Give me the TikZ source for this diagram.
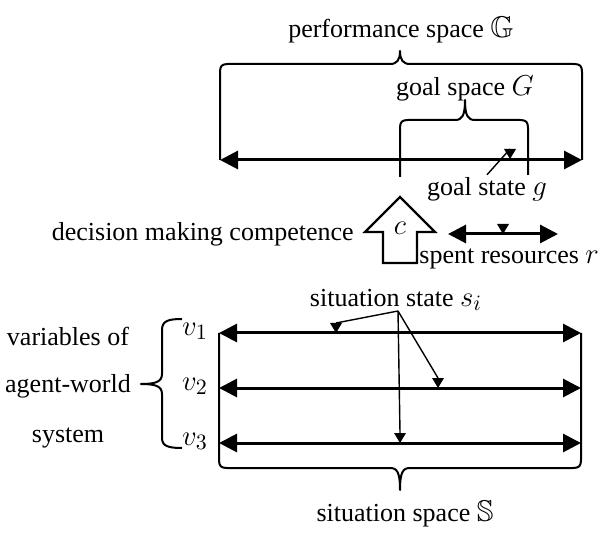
\documentclass[tikz,border=0pt]{standalone}
\usepackage{amssymb}
\usepackage{fontspec}
\setmainfont{Liberation Serif}
\usetikzlibrary{arrows.meta,positioning}

\newcommand{\mth}[1]{{\fontsize{15}{17}\selectfont$#1$}}

\tikzset{
  txt/.style={font=\fontsize{13}{15}\selectfont, inner sep=1pt},
  axisline/.style={line width=1.5pt, {Triangle[length=9pt,width=9pt]}-{Triangle[length=9pt,width=9pt]}},
  braceline/.style={line width=1pt, line join=round},
  pointer/.style={line width=0.7pt},
  tipmark/.pic={\fill (-6,0) -- (6,0) -- (0,10) -- cycle;}
}

\begin{document}
\begin{tikzpicture}[x=0.5pt, y=-0.5pt]
  \useasboundingbox (0,0) rectangle (598,544);

  % performance space
  \coordinate (pl) at (220,160);
  \coordinate (pr) at (582,160);
  \draw[axisline] (pl) -- (pr);
  \draw[braceline] (pl) -- (220,72) .. controls (220,66) and (222,64) .. (228,64)
    -- (390,64) .. controls (397,64) and (400,60) .. (400,51)
    .. controls (400,60) and (403,64) .. (410,64) -- (574,64)
    .. controls (580,64) and (582,66) .. (582,72) -- (pr);
  \node[txt] (perf) at (401,30) {performance space \mth{\mathbb{G}}};

  % goal space
  \draw[braceline] (400,177) -- (400,128) .. controls (400,122) and (402,120) .. (408,120)
    -- (455,120) .. controls (462,120) and (465,116) .. (465,100)
    .. controls (465,116) and (468,120) .. (475,120) -- (520,120)
    .. controls (526,120) and (528,122) .. (528,128) -- (528,175);
  \node[txt] (gsp) at (465,88) {goal space \mth{G}};

  % goal state
  \coordinate (gm) at (510,149);
  \pic at (gm) {tipmark};
  \node[txt] (gst) at (487,189) {goal state \mth{g}};
  \draw[pointer] (gst.north) -- (gm);

  % competence
  \draw[line width=1.2pt, line join=miter] (383,263) -- (383,232) -- (365,232) -- (400,197)
    -- (435,232) -- (417,232) -- (417,263) -- cycle;
  \node[txt] (comp) at (400,228) {\mth{c}};
  \node[txt, anchor=east] (dmc) at (356,234) {decision making competence};

  % spent resources
  \coordinate (ra) at (448,234);
  \coordinate (rb) at (558,234);
  \draw[axisline] (ra) -- (rb);
  \coordinate (rm) at (503,224);
  \pic at (rm) {tipmark};
  \node[txt, anchor=west] (res) at (417,259) {spent resources \mth{r}};

  % situation variables
  \foreach \i/\y in {1/333, 2/388, 3/443} {
    \coordinate (l\i) at (219,\y);
    \coordinate (r\i) at (581,\y);
    \draw[axisline] (l\i) -- (r\i);
    \node[txt] (v\i) at (195,\y-2) {\mth{v_\i}};
  }

  % situation space
  \draw[braceline] (l1) -- (219,460) .. controls (219,466) and (221,468) .. (227,468)
    -- (390,468) .. controls (397,468) and (400,472) .. (400,490)
    .. controls (400,472) and (403,468) .. (410,468) -- (573,468)
    .. controls (579,468) and (581,466) .. (581,460) -- (r1);
  \node[txt] (sspace) at (405,514) {situation space \mth{\mathbb{S}}};

  % situation state
  \node[txt] (sst) at (396,300) {situation state \mth{s_i}};
  \coordinate (si) at (398,311);
  \coordinate (m1) at (336,323);
  \coordinate (m2) at (438,378);
  \coordinate (m3) at (400,433);
  \foreach \m in {m1,m2,m3} {
    \pic at (\m) {tipmark};
    \draw[pointer] (si) -- (\m);
  }

  % agent-world variables
  \draw[braceline] (182,319) .. controls (168,319) and (162,321) .. (162,330) -- (162,374)
    .. controls (162,382) and (155,384) .. (141,384)
    .. controls (155,384) and (162,386) .. (162,394) -- (162,438)
    .. controls (162,446) and (168,448) .. (182,448);
  \node[txt] (var1) at (68,336) {variables of};
  \node[txt] (var2) at (68,386) {agent-world};
  \node[txt] (var3) at (68,438) {system};
\end{tikzpicture}
\end{document}
